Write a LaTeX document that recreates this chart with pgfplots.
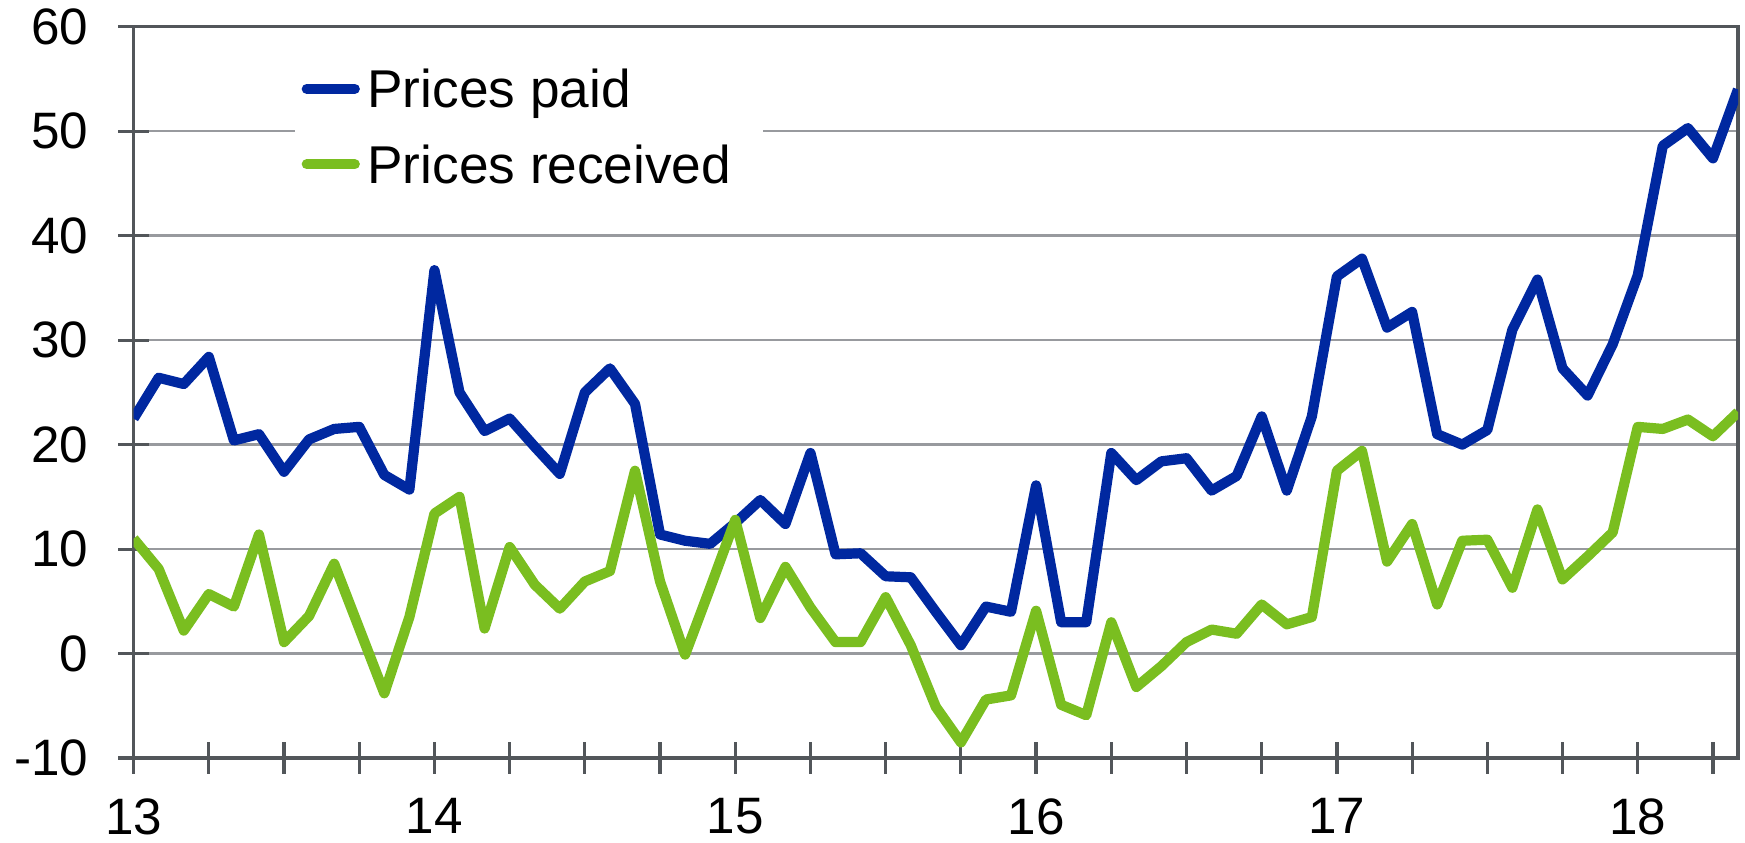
\documentclass[border=0pt]{standalone}
\usepackage{pgfplots}
\pgfplotsset{compat=1.18}
\usepackage{pgfplotstable}
\usepackage{fontspec}
\setmainfont{Liberation Sans}

\definecolor{paidblue}{RGB}{0,40,160}
\definecolor{recgreen}{RGB}{122,190,32}
\definecolor{gridgrey}{RGB}{152,154,158}
\definecolor{axisgrey}{RGB}{82,86,90}

% monthly balances, Jan 2013 - May 2018
\pgfplotstableread{
t       paid  rec
13.0000 22.5  11.0
13.0833 26.4   8.1
13.1667 25.8   2.2
13.2500 28.4   5.7
13.3333 20.4   4.5
13.4167 21.0  11.4
13.5000 17.4   1.1
13.5833 20.5   3.6
13.6667 21.5   8.6
13.7500 21.7   2.4
13.8333 17.1  -3.8
13.9167 15.7   3.5
14.0000 36.7  13.4
14.0833 25.0  15.0
14.1667 21.3   2.4
14.2500 22.5  10.2
14.3333 19.8   6.6
14.4167 17.2   4.3
14.5000 25.0   6.9
14.5833 27.3   7.9
14.6667 23.9  17.5
14.7500 11.4   6.9
14.8333 10.8  -0.1
14.9167 10.5   6.3
15.0000 12.5  12.8
15.0833 14.7   3.4
15.1667 12.4   8.3
15.2500 19.2   4.4
15.3333  9.5   1.1
15.4167  9.6   1.1
15.5000  7.4   5.4
15.5833  7.3   0.8
15.6667  4.0  -5.1
15.7500  0.8  -8.5
15.8333  4.5  -4.4
15.9167  4.0  -4.0
16.0000 16.1   4.1
16.0833  3.0  -4.9
16.1667  3.0  -5.9
16.2500 19.2   3.0
16.3333 16.6  -3.2
16.4167 18.4  -1.2
16.5000 18.7   1.1
16.5833 15.6   2.3
16.6667 17.0   1.9
16.7500 22.7   4.7
16.8333 15.6   2.8
16.9167 22.7   3.5
17.0000 36.1  17.5
17.0833 37.8  19.4
17.1667 31.2   8.8
17.2500 32.7  12.4
17.3333 21.0   4.7
17.4167 20.0  10.8
17.5000 21.4  10.9
17.5833 31.0   6.3
17.6667 35.8  13.8
17.7500 27.3   7.1
17.8333 24.7   9.3
17.9167 29.6  11.6
18.0000 36.2  21.7
18.0833 48.6  21.5
18.1667 50.3  22.4
18.2500 47.4  20.8
18.3333 54.0  23.1
}\prices

\begin{document}
\begin{tikzpicture}
\begin{axis}[name=ax,
  scale only axis, width=401pt, height=182.8pt,
  xmin=13, xmax=18.3333, ymin=-10, ymax=60,
  xtick={13,13.25,13.5,13.75,14,14.25,14.5,14.75,15,15.25,15.5,15.75,
         16,16.25,16.5,16.75,17,17.25,17.5,17.75,18,18.25},
  xticklabels={13,,,,14,,,,15,,,,16,,,,17,,,,18,},
  ytick={-10,0,10,20,30,40,50,60},
  yticklabels={-10,0,10,20,30,40,50,60},
  xtick pos=bottom, ytick pos=left,
  tick align=center, major tick length=7.8pt,
  tick style={axisgrey, line width=0.8pt},
  axis line style={axisgrey, line width=0.8pt},
  ymajorgrids, grid style={gridgrey, line width=0.6pt},
  tick label style={font=\fontsize{12.8}{15}\selectfont, inner sep=1pt},
  yticklabel style={xshift=-6.2pt},
  xticklabel style={yshift=-5pt},
  legend style={at={(0.1,0.964)}, anchor=north west, draw=none, fill=white,
    inner xsep=2pt, inner ysep=4pt, row sep=9.35pt,
    font=\fontsize{13.3}{16}\selectfont,
    nodes={inner sep=0pt, text height=9.5pt, text depth=0pt}},
  legend cell align=left,
  legend image code/.code={%
    \path (0pt,0pt) (12.35pt,0pt);
    \draw[#1, overlay, line cap=round] (-0.3pt,0pt) -- (11.7pt,0pt);},
  /tikz/every odd column/.append style={column sep=1.25pt},
]
\addplot[paidblue, line width=2.55pt, line join=round] table[x=t, y=paid] {\prices};
\addlegendentry{Prices paid}
\addplot[recgreen, line width=2.55pt, line join=round] table[x=t, y=rec] {\prices};
\addlegendentry{Prices received\hspace*{6pt}}
\end{axis}
\pgfresetboundingbox
\useasboundingbox ([xshift=-33.4pt, yshift=-21pt]ax.south west)
  rectangle ([xshift=1.75pt, yshift=6.675pt]ax.north east);
\end{tikzpicture}
\end{document}
